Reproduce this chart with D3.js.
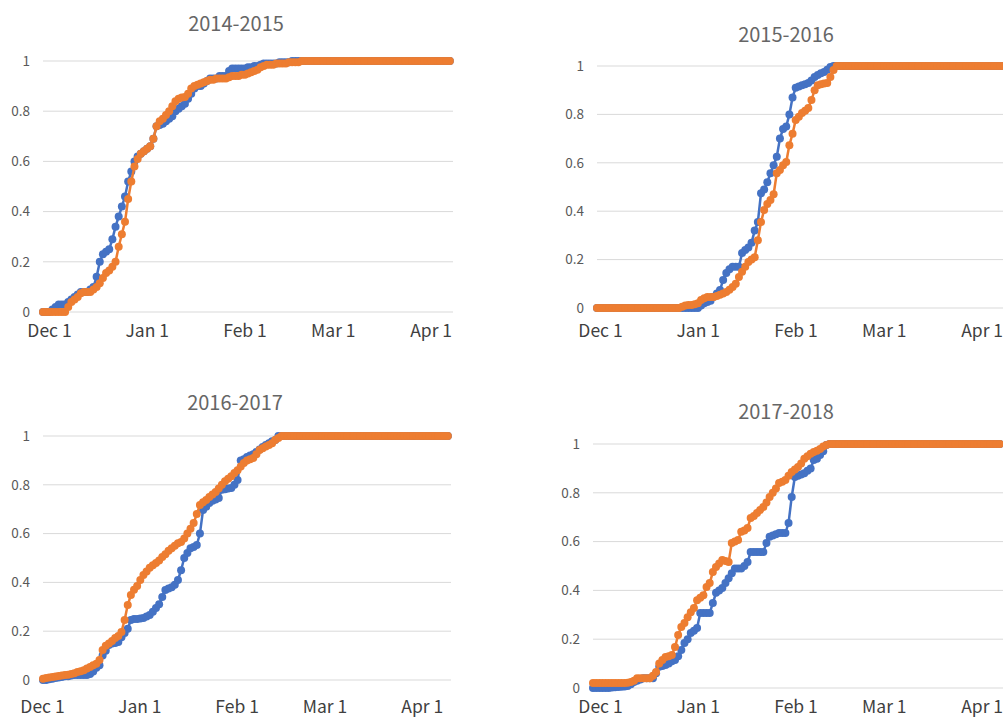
<!DOCTYPE html>
<html><head><meta charset="utf-8">
<script src="https://cdn.jsdelivr.net/npm/d3@7"></script>
<style>html,body{margin:0;padding:0;background:#fff;}svg{display:block;}</style>
</head><body>
<script>
// ---------- data ----------
const titles = ["2014-2015", "2015-2016", "2016-2017", "2017-2018"];
const tickLabels = ["Dec 1", "Jan 1", "Feb 1", "Mar 1", "Apr 1"];
const tickDays = [0, 31, 62, 90, 121];
const yTicks = [0, 0.2, 0.4, 0.6, 0.8, 1];

const blue1415 = [
0,0,0,0.01,0.02,0.03,0.03,0.03,0.04,0.05,
0.06,0.07,0.08,0.08,0.08,0.09,0.10,0.14,0.20,0.23,
0.24,0.25,0.29,0.34,0.38,0.42,0.46,0.52,0.56,0.60,
0.62,0.63,0.64,0.65,0.66,0.69,0.74,0.745,0.75,0.76,
0.77,0.78,0.80,0.81,0.82,0.83,0.85,0.87,0.89,0.90,
0.90,0.91,0.92,0.93,0.93,0.93,0.94,0.94,0.94,0.96,
0.97,0.97,0.97,0.97,0.97,0.975,0.975,0.98,0.98,0.985,
0.99,0.99,0.99,0.99,0.99,0.995,0.995,0.995,0.995,1,
1,1,1,1,1,1,1,1,1,1,
1,1,1,1,1,1,1,1,1,1,
1,1,1,1,1,1,1,1,1,1,
1,1,1,1,1,1,1,1,1,1,
1,1,1,1,1,1,1,1,1,1];
const orange1415 = [
0,0,0,0,0,0,0,0,0.02,0.04,
0.05,0.06,0.075,0.08,0.08,0.08,0.09,0.10,0.115,0.135,
0.155,0.165,0.18,0.20,0.26,0.31,0.36,0.45,0.52,0.58,
0.61,0.63,0.64,0.65,0.66,0.69,0.74,0.76,0.77,0.785,
0.80,0.82,0.84,0.85,0.855,0.857,0.87,0.89,0.90,0.905,
0.91,0.915,0.92,0.925,0.925,0.93,0.93,0.93,0.93,0.935,
0.94,0.94,0.94,0.945,0.945,0.95,0.955,0.96,0.965,0.975,
0.98,0.985,0.985,0.985,0.99,0.99,0.99,0.99,0.995,0.995,
0.995,0.995,1,1,1,1,1,1,1,1,
1,1,1,1,1,1,1,1,1,1,
1,1,1,1,1,1,1,1,1,1,
1,1,1,1,1,1,1,1,1,1,
1,1,1,1,1,1,1,1,1,1];

const blue1516 = [
0,0,0,0,0,0,0,0,0,0,
0,0,0,0,0,0,0,0,0,0,
0,0,0,0,0,0,0,0,0,0,
0,0,0,0.01,0.02,0.025,0.03,0.046,0.06,0.074,
0.116,0.145,0.16,0.17,0.17,0.17,0.227,0.24,0.25,0.27,
0.32,0.355,0.474,0.49,0.52,0.557,0.59,0.625,0.70,0.74,
0.75,0.80,0.87,0.91,0.915,0.92,0.925,0.93,0.94,0.955,
0.963,0.97,0.975,0.985,0.996,1,1,1,1,1,
1,1,1,1,1,1,1,1,1,1,
1,1,1,1,1,1,1,1,1,1,
1,1,1,1,1,1,1,1,1,1,
1,1,1,1,1,1,1,1,1,1,
1,1,1,1,1,1,1,1,1,1];
const orange1516 = [
0,0,0,0,0,0,0,0,0,0,
0,0,0,0,0,0,0,0,0,0,
0,0,0,0,0,0,0,0.005,0.01,0.012,
0.012,0.015,0.02,0.033,0.04,0.045,0.045,0.045,0.05,0.055,
0.06,0.066,0.075,0.087,0.10,0.128,0.15,0.17,0.19,0.20,
0.21,0.28,0.355,0.405,0.43,0.446,0.47,0.557,0.57,0.59,
0.603,0.673,0.72,0.777,0.79,0.806,0.815,0.826,0.86,0.90,
0.92,0.925,0.928,0.93,0.955,0.983,1,1,1,1,
1,1,1,1,1,1,1,1,1,1,
1,1,1,1,1,1,1,1,1,1,
1,1,1,1,1,1,1,1,1,1,
1,1,1,1,1,1,1,1,1,1,
1,1,1,1,1,1,1,1,1,1];

const blue1617 = [
0,0,0.003,0.005,0.008,0.01,0.012,0.015,0.015,0.018,
0.02,0.02,0.02,0.02,0.02,0.025,0.035,0.05,0.06,0.10,
0.12,0.143,0.15,0.152,0.156,0.175,0.193,0.21,0.246,0.25,
0.25,0.252,0.254,0.26,0.266,0.28,0.295,0.31,0.34,0.369,
0.375,0.38,0.39,0.41,0.45,0.50,0.52,0.54,0.545,0.553,
0.60,0.697,0.71,0.725,0.735,0.74,0.746,0.78,0.782,0.785,
0.787,0.80,0.82,0.90,0.905,0.914,0.92,0.925,0.934,0.945,
0.955,0.963,0.97,0.978,0.984,1,1,1,1,1,
1,1,1,1,1,1,1,1,1,1,
1,1,1,1,1,1,1,1,1,1,
1,1,1,1,1,1,1,1,1,1,
1,1,1,1,1,1,1,1,1,1,
1,1,1,1,1,1,1,1,1,1];
const orange1617 = [
0.005,0.008,0.01,0.012,0.014,0.016,0.018,0.02,0.022,0.025,
0.028,0.033,0.036,0.04,0.047,0.053,0.06,0.067,0.082,0.123,
0.14,0.15,0.16,0.172,0.18,0.197,0.246,0.307,0.348,0.37,
0.385,0.41,0.43,0.445,0.46,0.47,0.48,0.49,0.504,0.515,
0.53,0.54,0.55,0.56,0.566,0.58,0.60,0.62,0.643,0.68,
0.717,0.728,0.738,0.75,0.76,0.77,0.785,0.80,0.815,0.825,
0.835,0.848,0.86,0.875,0.889,0.90,0.905,0.91,0.925,0.943,
0.95,0.957,0.963,0.97,0.984,0.992,1,1,1,1,
1,1,1,1,1,1,1,1,1,1,
1,1,1,1,1,1,1,1,1,1,
1,1,1,1,1,1,1,1,1,1,
1,1,1,1,1,1,1,1,1,1,
1,1,1,1,1,1,1,1,1,1];

const blue1718 = [
0,0,0,0,0,0,0.002,0.003,0.004,0.005,
0.006,0.008,0.015,0.025,0.03,0.035,0.04,0.04,0.04,0.04,
0.06,0.087,0.09,0.094,0.10,0.11,0.115,0.13,0.156,0.184,
0.20,0.225,0.235,0.246,0.307,0.307,0.307,0.307,0.348,0.39,
0.40,0.41,0.43,0.45,0.47,0.49,0.49,0.49,0.50,0.516,
0.557,0.557,0.557,0.557,0.557,0.594,0.62,0.625,0.63,0.635,
0.635,0.635,0.676,0.783,0.865,0.87,0.875,0.88,0.89,0.90,
0.934,0.94,0.955,0.97,0.996,1,1,1,1,1,
1,1,1,1,1,1,1,1,1,1,
1,1,1,1,1,1,1,1,1,1,
1,1,1,1,1,1,1,1,1,1,
1,1,1,1,1,1,1,1,1,1,
1,1,1,1,1,1,1,1,1,1];
const orange1718 = [
0.02,0.02,0.02,0.02,0.02,0.02,0.02,0.02,0.02,0.02,
0.02,0.022,0.025,0.03,0.04,0.04,0.04,0.04,0.04,0.05,
0.066,0.10,0.115,0.127,0.13,0.135,0.168,0.217,0.25,0.266,
0.29,0.31,0.328,0.36,0.37,0.38,0.414,0.43,0.475,0.496,
0.51,0.525,0.52,0.516,0.594,0.60,0.607,0.64,0.645,0.656,
0.697,0.705,0.717,0.73,0.742,0.76,0.783,0.80,0.818,0.84,
0.845,0.852,0.87,0.885,0.895,0.906,0.92,0.94,0.95,0.96,
0.967,0.972,0.98,0.99,0.996,1,1,1,1,1,
1,1,1,1,1,1,1,1,1,1,
1,1,1,1,1,1,1,1,1,1,
1,1,1,1,1,1,1,1,1,1,
1,1,1,1,1,1,1,1,1,1,
1,1,1,1,1,1,1,1,1,1];

const blueSeries = [blue1415, blue1516, blue1617, blue1718];
const orangeSeries = [orange1415, orange1516, orange1617, orange1718];

// ---------- layout ----------
const W = 1003, H = 717;
const DAYS = 130;
const layout = [
  {left: 43,  width: 410, top: 61,  bottom: 312, titleX: 236, titleY: 22,  labelY: 331, labelDx: 6},
  {left: 597, width: 410, top: 66,  bottom: 308, titleX: 786, titleY: 33,  labelY: 331, labelDx: 3},
  {left: 43,  width: 408, top: 436, bottom: 680, titleX: 235, titleY: 401, labelY: 707, labelDx: -1},
  {left: 593, width: 410, top: 444, bottom: 688, titleX: 786, titleY: 410, labelY: 707, labelDx: 7}
];
const BLUE = "#4472C4", ORANGE = "#ED7D31";
const FONT = "'Noto Sans CJK JP','Noto Sans',sans-serif";

const svg = d3.select("body").append("svg").attr("width", W).attr("height", H)
  .style("font-family", FONT);

layout.forEach((L, p) => {
  const x = d3.scaleLinear().domain([0, DAYS]).range([L.left, L.left + L.width]);
  const y = d3.scaleLinear().domain([0, 1]).range([L.bottom, L.top]);
  const g = svg.append("g");

  // gridlines
  g.selectAll("line.grid").data(yTicks).join("line")
    .attr("x1", L.left).attr("x2", L.left + L.width)
    .attr("y1", d => y(d)).attr("y2", d => y(d))
    .attr("stroke", "#d9d9d9").attr("stroke-width", 1);

  // y labels
  const yAxis = d3.axisLeft(y).tickValues(yTicks).tickSize(0).tickPadding(13)
    .tickFormat(d => String(d));
  const ya = g.append("g").attr("transform", `translate(${L.left},0)`).call(yAxis);
  ya.select(".domain").remove();
  ya.selectAll("text").attr("fill", "#595959").style("font-size", "13.5px").style("font-family", FONT);

  // x labels
  const xAxis = d3.axisBottom(x).tickValues(tickDays).tickSize(0).tickPadding(0)
    .tickFormat((d, i) => tickLabels[i]);
  const xa = g.append("g").attr("transform", `translate(${L.labelDx},${L.labelY})`).call(xAxis);
  xa.select(".domain").remove();
  xa.selectAll("text").attr("fill", "#404040").attr("dy", "0.35em").attr("y", 0)
    .style("font-size", "17.5px").style("font-family", FONT);

  // title
  g.append("text").attr("x", L.titleX).attr("y", L.titleY)
    .attr("text-anchor", "middle").attr("dominant-baseline", "central")
    .attr("fill", "#666666").style("font-size", "20px").text(titles[p]);

  const line = d3.line().x((d, i) => x(i)).y(d => y(d));
  [[blueSeries[p], BLUE], [orangeSeries[p], ORANGE]].forEach(([vals, col]) => {
    g.append("path").datum(vals).attr("d", line).attr("fill", "none")
      .attr("stroke", col).attr("stroke-width", 2.5);
    g.append("g").selectAll("circle").data(vals).join("circle")
      .attr("cx", (d, i) => x(i)).attr("cy", d => y(d)).attr("r", 4).attr("fill", col);
  });
});
</script>
</body></html>
